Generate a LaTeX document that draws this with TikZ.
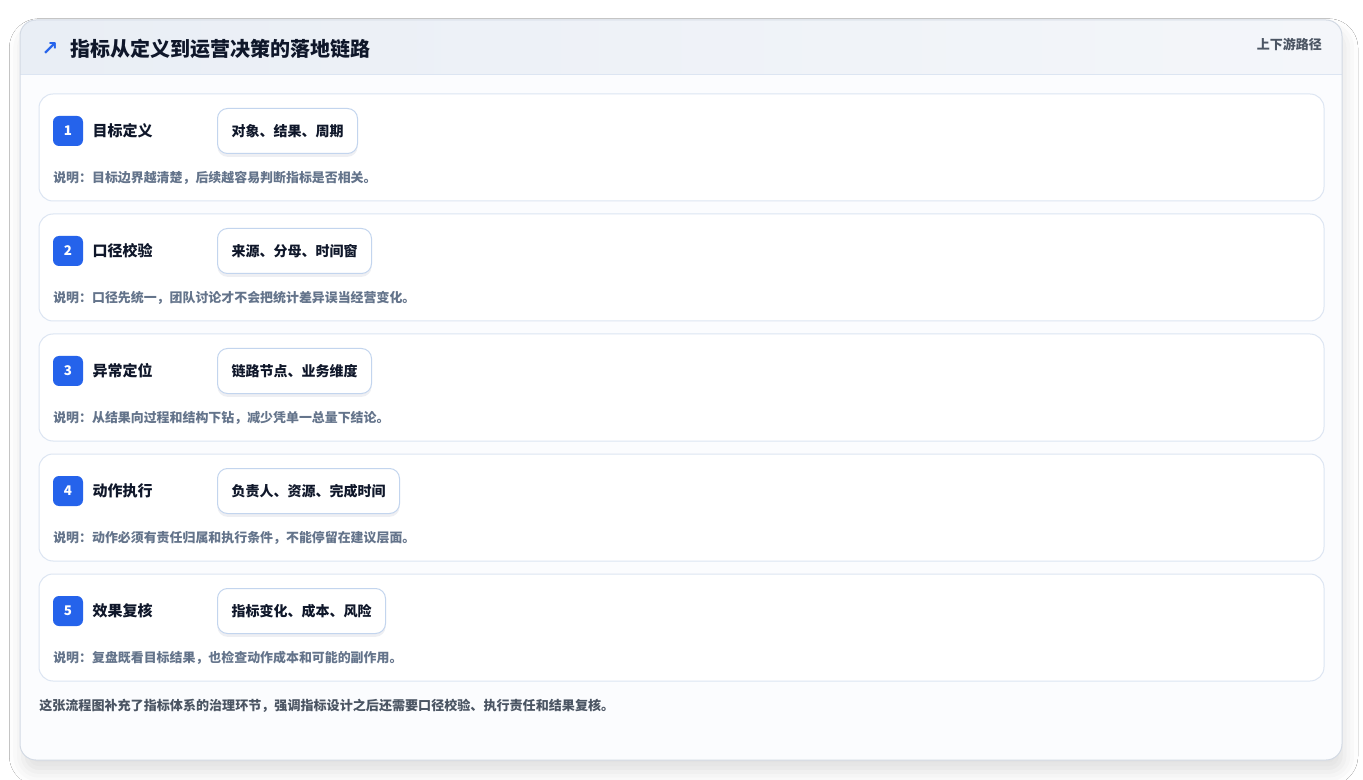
\documentclass[tikz,border=0pt]{standalone}
\usepackage{fontspec}
\setmainfont{Noto Sans CJK SC}
\newfontfamily\symfont{DejaVu Sans}
\usetikzlibrary{positioning,shadows.blur}
\definecolor{badgeblue}{HTML}{2563EB}
\definecolor{inkdark}{HTML}{0F172A}
\definecolor{inkgray}{HTML}{64748B}
\definecolor{footgray}{HTML}{4B5563}
\definecolor{cardline}{HTML}{D3DAE4}
\definecolor{rowline}{HTML}{DCE5F2}
\definecolor{tagline}{HTML}{C3D5EE}
\definecolor{headleft}{HTML}{E9EEF5}
\definecolor{headright}{HTML}{F4F6FA}
\definecolor{cardfill}{HTML}{FBFCFE}

\begin{document}
\begin{tikzpicture}[x=0.75pt,y=-0.75pt,
    outercard/.style={fill=cardfill,rounded corners=12pt},
    rowbox/.style={draw=rowline,fill=white,line width=0.75pt,rounded corners=10.5pt},
    badge/.style={fill=badgeblue,text=white,rounded corners=4.5pt,minimum size=22.5pt,inner sep=0pt,
        font=\bfseries\fontsize{10}{12}\selectfont},
    steplabel/.style={inner sep=0pt,text=inkdark,font=\bfseries\fontsize{11.25}{13}\selectfont},
    tagbox/.style={draw=tagline,fill=white,line width=0.75pt,rounded corners=7.5pt,inner xsep=10.5pt,
        minimum height=33.75pt,text=inkdark,font=\bfseries\fontsize{10.5}{12}\selectfont,
        drop shadow={shadow xshift=0pt,shadow yshift=-2.5pt,opacity=0.07,fill=badgeblue!40!black}},
    note/.style={inner sep=0pt,anchor=west,text=inkgray,font=\bfseries\fontsize{9.7}{11}\selectfont}]
    \useasboundingbox (0,0) rectangle (1363,780);
    \fill[white] (0,0) rectangle (1363,780);

    % card and header band
    \path[outercard,blur shadow={shadow xshift=2pt,shadow yshift=-9pt,shadow blur radius=10pt,shadow opacity=12}]
        (20,20) rectangle (1342,760);
    \begin{scope}
        \clip[rounded corners=12pt] (20,20) rectangle (1342,760);
        \shade[left color=headleft,right color=headright] (20,20) rectangle (1342,75);
    \end{scope}
    \draw[rowline,line width=0.75pt] (20,75) -- (1342,75);
    \draw[cardline,line width=0.75pt,rounded corners=12pt] (20,20) rectangle (1342,760);

    \node[text=badgeblue,inner sep=0pt,font=\symfont\bfseries\fontsize{15}{15}\selectfont] (icon) at (50,49) {↗};
    \node[anchor=west,inner sep=0pt,text=inkdark,font=\bfseries\fontsize{15}{18}\selectfont] (title) at (70,49)
        {指标从定义到运营决策的落地链路};
    \node[anchor=east,inner sep=0pt,text=footgray,font=\bfseries\fontsize{9.75}{12}\selectfont] (side) at (1322,44)
        {上下游路径};

    % five steps
    \foreach \i/\lab/\tag/\txt in {
        1/目标定义/对象、结果、周期/说明：目标边界越清楚，后续越容易判断指标是否相关。,
        2/口径校验/来源、分母、时间窗/说明：口径先统一，团队讨论才不会把统计差异误当经营变化。,
        3/异常定位/链路节点、业务维度/说明：从结果向过程和结构下钻，减少凭单一总量下结论。,
        4/动作执行/负责人、资源、完成时间/说明：动作必须有责任归属和执行条件，不能停留在建议层面。,
        5/效果复核/指标变化、成本、风险/说明：复盘既看目标结果，也检查动作成本和可能的副作用。} {
        \pgfmathsetmacro{\ytop}{94+120*(\i-1)}
        \draw[rowbox] (39,\ytop) rectangle (1324,\ytop+107);
        \node[badge] (b\i) at (68,\ytop+37) {\i};
        \node[steplabel,right=6.75pt of b\i] (l\i) {\lab};
        \node[tagbox,anchor=west] (t\i) at (217,\ytop+37) {\tag};
        \node[note] (n\i) at (53,\ytop+84) {\txt};
    }

    \node[anchor=west,inner sep=0pt,text=footgray,font=\bfseries\fontsize{9.8}{12}\selectfont] (foot) at (39,706)
        {这张流程图补充了指标体系的治理环节，强调指标设计之后还需要口径校验、执行责任和结果复核。};
\end{tikzpicture}
\end{document}
